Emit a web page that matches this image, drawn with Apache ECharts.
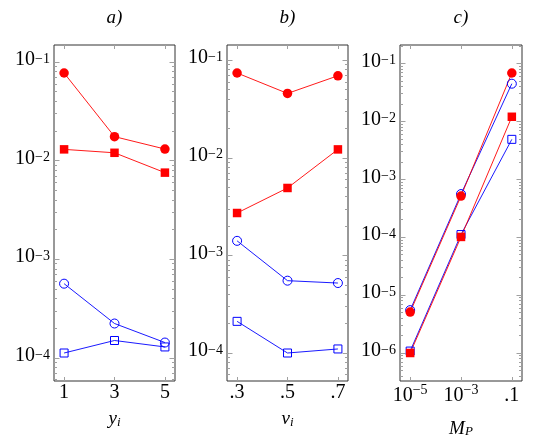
<!DOCTYPE html>
<html>
<head>
<meta charset="utf-8">
<script src="https://cdn.jsdelivr.net/npm/echarts@6/dist/echarts.min.js"></script>
<style>
html, body { margin: 0; padding: 0; background: #fff; }
#main { width: 534px; height: 441px; }
</style>
</head>
<body>
<div id="main"></div>
<script>
// panel a) -- y_i
var yiVals = [1, 3, 5];
var aRedCircle = [0.0773, 0.0175, 0.0131];
var aRedSquare = [0.0130, 0.0120, 0.00755];
var aBlueCircle = [0.000565, 0.000223, 0.000143];
var aBlueSquare = [0.000112, 0.000150, 0.000129];

// panel b) -- v_i
var viVals = [0.3, 0.5, 0.7];
var bRedCircle = [0.0740, 0.0457, 0.0693];
var bRedSquare = [0.00272, 0.00491, 0.0122];
var bBlueCircle = [0.00141, 0.000551, 0.000521];
var bBlueSquare = [0.000211, 0.000100, 0.000110];

// panel c) -- M_P
var mpVals = [1e-5, 1e-3, 0.1];
var cRedCircle = [5.1e-6, 0.000512, 0.0684];
var cRedSquare = [1.0e-6, 0.000101, 0.0120];
var cBlueCircle = [5.5e-6, 0.000555, 0.0447];
var cBlueSquare = [1.08e-6, 0.000111, 0.00489];

// tick labels
var aDecades = [-4, -3, -2, -1];
var bDecades = [-4, -3, -2, -1];
var cDecades = [-6, -5, -4, -3, -2, -1];
var titles = ['a)', 'b)', 'c)'];

var FONT = 'Liberation Serif';
var RED = '#ff0000', BLUE = '#0000ff';
var TICK = '#a0a0a0';

var grids = [
    { left: 54, top: 45, width: 121, height: 336 },
    { left: 227, top: 45, width: 121, height: 336 },
    { left: 400, top: 45, width: 122, height: 336 }
];

function log10(v) { return Math.log(v) / Math.LN10; }

// pgfplots style "enlarge limits" on a log axis
function logRange(arrs) {
    var all = [].concat.apply([], arrs).map(log10);
    var lo = Math.min.apply(null, all), hi = Math.max.apply(null, all);
    var pad = (hi - lo) * 0.1;
    return [Math.pow(10, lo - pad), Math.pow(10, hi + pad)];
}
function linRange(v) {
    var lo = Math.min.apply(null, v), hi = Math.max.apply(null, v);
    var pad = (hi - lo) * 0.1;
    return [lo - pad, hi + pad];
}

function majors(dec) { return dec.map(function (d) { return Math.pow(10, d); }); }
function minors(dec) {
    var out = [];
    for (var d = dec[0] - 1; d <= dec[dec.length - 1]; d++) {
        for (var k = 2; k <= 9; k++) out.push(k * Math.pow(10, d));
    }
    return out;
}

function powLabel(v) {
    var e = Math.round(log10(v));
    return '{b|10}{s|' + (e < 0 ? '\u2212' + (-e) : e) + '}';
}

var richNum = {
    b: { fontFamily: FONT, fontSize: 20, lineHeight: 20, color: '#000', padding: [3, 0, 7, 0] },
    s: { fontFamily: FONT, fontSize: 14, lineHeight: 14, color: '#000', verticalAlign: 'top' }
};
var richX = {
    p: { fontFamily: FONT, fontSize: 20, lineHeight: 20, color: '#000' },
    b: { fontFamily: FONT, fontSize: 20, lineHeight: 26, color: '#000' },
    s: { fontFamily: FONT, fontSize: 14, lineHeight: 14, color: '#000', verticalAlign: 'top' }
};
var richName = {
    i: { fontFamily: FONT, fontStyle: 'italic', fontSize: 19, lineHeight: 19, color: '#000' },
    sub: { fontFamily: FONT, fontStyle: 'italic', fontSize: 13, lineHeight: 13, color: '#000',
           verticalAlign: 'bottom', padding: [8, 0, 0, 0] }
};

function xAx(p, pos, type, range, vals, fmt, name, gap) {
    var bottom = pos === 'bottom';
    return {
        type: type, gridIndex: p, position: pos, min: range[0], max: range[1],
        axisLine: { show: false }, splitLine: { show: false },
        axisTick: { show: true, inside: true, length: 4, customValues: vals,
                    lineStyle: { color: TICK, width: 1 } },
        axisLabel: bottom ? { show: true, customValues: vals, margin: 2, formatter: fmt,
                              fontFamily: FONT, fontSize: 20, rich: richX }
                          : { show: false },
        name: bottom ? name : '', nameLocation: 'middle', nameGap: gap,
        nameTextStyle: { fontFamily: FONT, fontSize: 19, rich: richName }
    };
}

function yAx(p, side, minor, range, dec) {
    var showLab = side === 'left' && !minor;
    return {
        type: 'log', logBase: 10, gridIndex: p, position: side, min: range[0], max: range[1],
        axisLine: { show: false }, splitLine: { show: false },
        axisTick: { show: true, inside: true, length: minor ? 3 : 5.5,
                    customValues: minor ? minors(dec) : majors(dec),
                    lineStyle: { color: TICK, width: 1 } },
        axisLabel: showLab ? { show: true, customValues: majors(dec), margin: 4,
                               formatter: powLabel, fontFamily: FONT, fontSize: 20, rich: richNum }
                           : { show: false }
    };
}

function fmtPlain(v) { return '{p|' + v + '}'; }
function fmtDot(v) { return '{p|' + String(Math.round(v * 10) / 10).replace(/^0\./, '.') + '}'; }
function fmtMp(v) { return v >= 0.05 ? '{b|.1}' : powLabel(v); }

var aY = logRange([aRedCircle, aRedSquare, aBlueCircle, aBlueSquare]);
var bY = logRange([bRedCircle, bRedSquare, bBlueCircle, bBlueSquare]);
var cY = logRange([cRedCircle, cRedSquare, cBlueCircle, cBlueSquare]);
var cX = logRange([mpVals]);

var xAxes = [
    xAx(0, 'bottom', 'value', linRange(yiVals), yiVals, fmtPlain, '{i|y}{sub|i}', 9),
    xAx(0, 'top', 'value', linRange(yiVals), yiVals, fmtPlain),
    xAx(1, 'bottom', 'value', linRange(viVals), viVals, fmtDot, '{i|v}{sub|i}', 9),
    xAx(1, 'top', 'value', linRange(viVals), viVals, fmtDot),
    xAx(2, 'bottom', 'log', cX, mpVals, fmtMp, '{i|M}{sub|P}', 38),
    xAx(2, 'top', 'log', cX, mpVals, fmtMp)
];
var yAxes = [];
[[aY, aDecades], [bY, bDecades], [cY, cDecades]].forEach(function (r, p) {
    yAxes.push(yAx(p, 'left', false, r[0], r[1]));
    yAxes.push(yAx(p, 'left', true, r[0], r[1]));
    yAxes.push(yAx(p, 'right', false, r[0], r[1]));
    yAxes.push(yAx(p, 'right', true, r[0], r[1]));
});

var styles = {
    blueCircle: { symbol: 'circle', symbolSize: 9, color: BLUE, open: true },
    blueSquare: { symbol: 'rect', symbolSize: 8, color: BLUE, open: true },
    redCircle: { symbol: 'circle', symbolSize: 9.5, color: RED },
    redSquare: { symbol: 'rect', symbolSize: 8.5, color: RED }
};

function line(p, xs, ys, st) {
    return {
        type: 'line', xAxisIndex: 2 * p, yAxisIndex: 4 * p,
        data: xs.map(function (x, i) { return [x, ys[i]]; }),
        symbol: st.symbol, symbolSize: st.symbolSize, showSymbol: true,
        lineStyle: { color: st.color, width: 0.9 },
        itemStyle: st.open ? { color: 'rgba(0,0,0,0)', borderColor: st.color, borderWidth: 1 }
                           : { color: st.color, borderWidth: 0 },
        emphasis: { disabled: true }, silent: true
    };
}

var series = [
    line(0, yiVals, aBlueSquare, styles.blueSquare),
    line(0, yiVals, aBlueCircle, styles.blueCircle),
    line(0, yiVals, aRedSquare, styles.redSquare),
    line(0, yiVals, aRedCircle, styles.redCircle),
    line(1, viVals, bBlueSquare, styles.blueSquare),
    line(1, viVals, bBlueCircle, styles.blueCircle),
    line(1, viVals, bRedSquare, styles.redSquare),
    line(1, viVals, bRedCircle, styles.redCircle),
    line(2, mpVals, cBlueSquare, styles.blueSquare),
    line(2, mpVals, cBlueCircle, styles.blueCircle),
    line(2, mpVals, cRedSquare, styles.redSquare),
    line(2, mpVals, cRedCircle, styles.redCircle)
];

var chart = echarts.init(document.getElementById('main'), null, { renderer: 'canvas' });
chart.setOption({
    animation: false,
    backgroundColor: '#fff',
    grid: grids.map(function (g) {
        return { left: g.left, top: g.top, width: g.width, height: g.height,
                 outerBoundsMode: 'none', containLabel: false,
                 show: true, borderColor: '#333', borderWidth: 1, backgroundColor: 'transparent' };
    }),
    graphic: titles.map(function (t, i) {
        return {
            type: 'text', x: grids[i].left + grids[i].width / 2, y: 18,
            style: { text: t, font: 'italic 19px "' + FONT + '"', fill: '#000',
                     textAlign: 'center', textVerticalAlign: 'middle' }
        };
    }),
    xAxis: xAxes,
    yAxis: yAxes,
    series: series
});
</script>
</body>
</html>
